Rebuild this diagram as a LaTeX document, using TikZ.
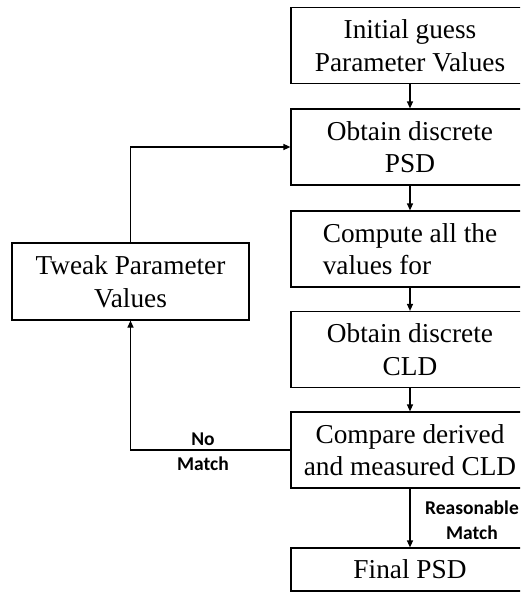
\documentclass[tikz,border=0pt]{standalone}
\usepackage{fontspec}
\setmainfont{Liberation Serif}
\newfontfamily\labelfont{Carlito}
\usetikzlibrary{arrows.meta}
\tikzset{
  stepbox/.style={draw, line width=1.2pt, minimum width=238pt, inner sep=0pt,
    align=center, font=\fontsize{27.3}{32.5}\selectfont},
  flow/.style={line width=1.2pt, -{Triangle[length=7pt,width=6pt]}},
  edgelabel/.style={font=\labelfont\bfseries\fontsize{19.5}{25}\selectfont, align=center, inner sep=0pt}
}
\begin{document}
\begin{tikzpicture}[x=1pt,y=-1pt]
  \useasboundingbox (0,0) rectangle (520,592);
  \clip (0,0) rectangle (520,592);
  \fill[white] (0,0) rectangle (520,592);

  % main chain of steps
  \node[stepbox, minimum height=76pt] (init) at (410,45.5) {Initial guess\\Parameter Values};
  \node[stepbox, minimum height=76pt] (psd) at (410,147) {Obtain discrete\\PSD};
  \node[stepbox, minimum height=76pt, align=left] (comp) at (410,249) {Compute all the\\values for};
  \node[stepbox, minimum height=76pt] (cld) at (410,349.5) {Obtain discrete\\CLD};
  \node[stepbox, minimum height=76pt] (cmp) at (410,450) {Compare derived\\and measured CLD};
  \node[stepbox, minimum height=43pt] (final) at (410,569.5) {Final PSD};

  % feedback step
  \node[stepbox, minimum width=237pt, minimum height=77pt] (tweak) at (130.5,281.5) {Tweak Parameter\\Values};

  % connectors
  \draw[flow] (init) -- (psd);
  \draw[flow] (psd) -- (comp);
  \draw[flow] (comp) -- (cld);
  \draw[flow] (cld) -- (cmp);
  \draw[flow] (cmp) -- (final);
  \draw[flow] (cmp.west) -| (tweak.south);
  \draw[flow] (tweak.north) |- (psd.west);

  % connector labels
  \node[edgelabel] (nomatch) at (203,452) {No\\Match};
  \node[edgelabel] (okmatch) at (472,520.5) {Reasonable\\Match};
\end{tikzpicture}
\end{document}
